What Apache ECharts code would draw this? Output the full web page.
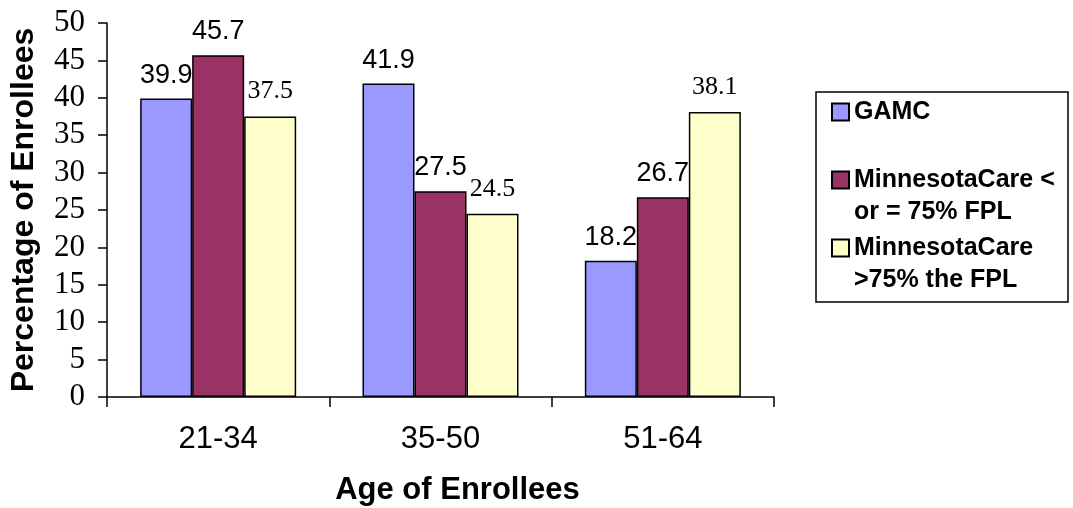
<!DOCTYPE html>
<html lang="en">
<head>
    <meta charset="UTF-8">
    <title>Age of Enrollees</title>
    <script src="https://cdn.jsdelivr.net/npm/echarts@6/dist/echarts.min.js"></script>
    <style>
        * { margin: 0; padding: 0; }
        body { background: #fff; }
        #chart { width: 1073px; height: 508px; }
    </style>
</head>
<body>
    <div id="chart"></div>
    <script>
        const ageGroups = ['21-34', '35-50', '51-64'];
        const gamc = [39.9, 41.9, 18.2];
        const mnCareLow = [45.7, 27.5, 26.7];
        const mnCareHigh = [37.5, 24.5, 38.1];
        const seriesNames = ['GAMC', 'MinnesotaCare < or = 75% FPL', 'MinnesotaCare >75% the FPL'];
        // leading blank line keeps the legend square level with the first text line
        const legendText = {
            'GAMC': 'GAMC',
            'MinnesotaCare < or = 75% FPL': '\nMinnesotaCare <\nor = 75% FPL',
            'MinnesotaCare >75% the FPL': '\nMinnesotaCare\n>75% the FPL'
        };

        const sans = 'Liberation Sans, Arial, sans-serif';
        const serif = 'Liberation Serif, Times New Roman, serif';

        function barSeries(name, data, color, labelFont, labelSize, dist) {
            return {
                name: name,
                type: 'bar',
                data: data,
                barWidth: 52,
                barGap: '0%',
                itemStyle: { color: color, borderColor: '#000', borderWidth: 1.5 },
                label: {
                    show: true,
                    position: 'top',
                    distance: dist,
                    color: '#000',
                    fontFamily: labelFont,
                    fontSize: labelSize
                }
            };
        }

        function legendFor(name, top) {
            return {
                data: [name],
                left: 831,
                top: top,
                padding: 0,
                itemWidth: 17,
                itemHeight: 17,
                icon: 'rect',
                selectedMode: false,
                formatter: n => legendText[n],
                textStyle: {
                    fontFamily: sans,
                    fontWeight: 'bold',
                    fontSize: 25,
                    lineHeight: 32,
                    color: '#000'
                }
            };
        }

        const chart = echarts.init(document.getElementById('chart'));
        chart.setOption({
            animation: false,
            grid: { left: 107, right: 299, top: 23, bottom: 111, containLabel: false, outerBoundsMode: 'none' },
            xAxis: {
                type: 'category',
                data: ageGroups,
                axisLine: { lineStyle: { color: '#000', width: 1.5 } },
                axisTick: { show: true, length: 10, lineStyle: { color: '#000', width: 1.5 } },
                axisLabel: { color: '#000', fontFamily: sans, fontSize: 31, margin: 27 },
                name: 'Age of Enrollees',
                nameLocation: 'middle',
                nameGap: 78,
                nameTextStyle: {
                    color: '#000', fontFamily: sans, fontWeight: 'bold', fontSize: 31,
                    padding: [0, 0, 0, 34]
                }
            },
            yAxis: {
                type: 'value',
                min: 0,
                max: 50,
                interval: 5,
                splitLine: { show: false },
                axisLine: { show: true, lineStyle: { color: '#000', width: 1.5 } },
                axisTick: { show: true, length: 9, lineStyle: { color: '#000', width: 1.5 } },
                axisLabel: { color: '#000', fontFamily: serif, fontSize: 31, margin: 22 },
                name: 'Percentage of Enrollees',
                nameLocation: 'middle',
                nameGap: 67,
                nameTextStyle: { color: '#000', fontFamily: sans, fontWeight: 'bold', fontSize: 32 }
            },
            legend: [
                legendFor(seriesNames[0], 96),
                legendFor(seriesNames[1], 132),
                legendFor(seriesNames[2], 200)
            ],
            graphic: [{
                type: 'rect',
                shape: { x: 816, y: 92, width: 252, height: 210 },
                style: { fill: 'none', stroke: '#000', lineWidth: 1.5 }
            }],
            series: [
                barSeries(seriesNames[0], gamc, '#9999FF', sans, 27, 10),
                barSeries(seriesNames[1], mnCareLow, '#993366', sans, 27, 10),
                barSeries(seriesNames[2], mnCareHigh, '#FFFFCC', serif, 26, 12)
            ]
        });
    </script>
</body>
</html>
